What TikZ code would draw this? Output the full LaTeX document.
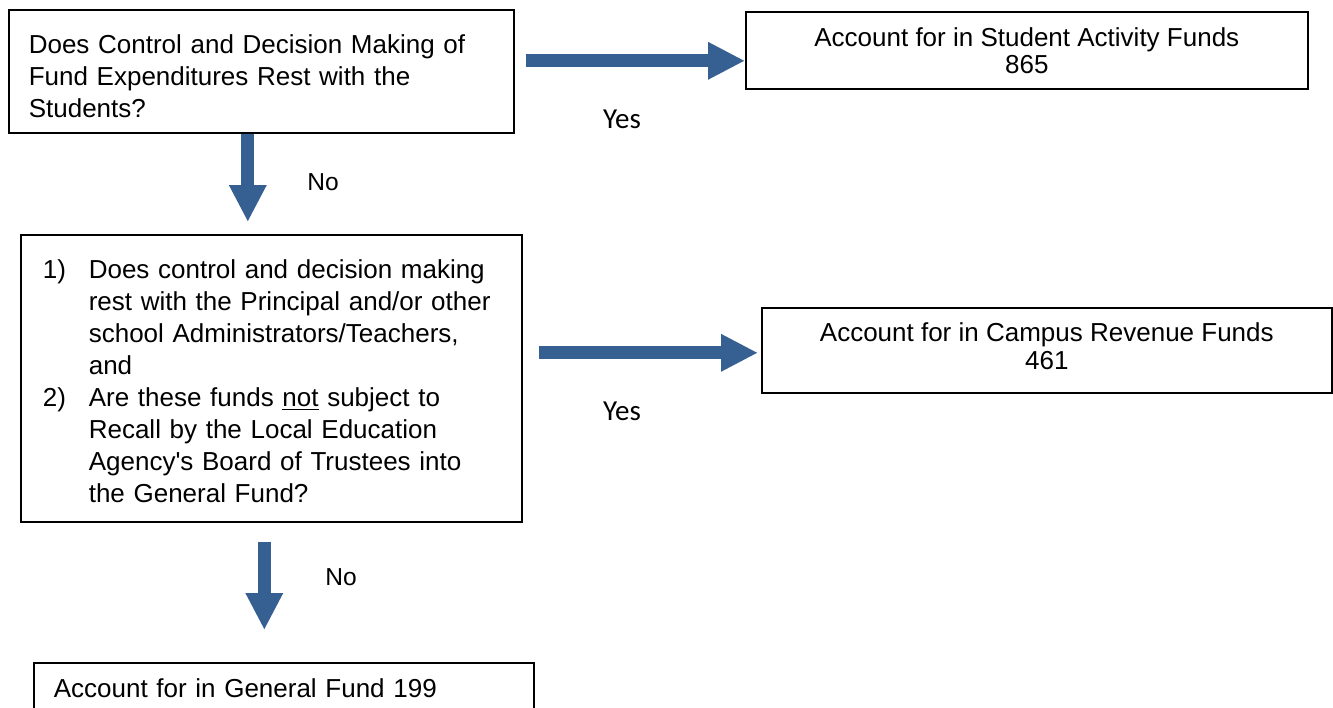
\documentclass[tikz,border=0pt]{standalone}
\usepackage{fontspec}
\setmainfont{Liberation Sans}[Ligatures=TeXOff]
\newfontfamily\yesfont{Carlito}
\usetikzlibrary{arrows.meta,calc}
\definecolor{flowblue}{RGB}{55,96,146}

\begin{document}
\begin{tikzpicture}[x=0.75pt, y=-0.75pt,
                    box/.style={draw, line width=1.2pt, rectangle, inner ysep=0pt},
                    flow/.style={draw=flowblue, line width=9.75pt,
                                 -{Triangle[length=27.75pt, width=26.25pt]}},
                    answer/.style={font=\fontsize{18.4}{22}\selectfont},
                    every node/.style={font=\fontsize{19.5}{24}\selectfont}]
      \useasboundingbox (0,0) rectangle (1333,707);
      \clip (0,0) rectangle (1333,707);
      % question boxes
      \node[box, anchor=north west, minimum width=378.75pt, minimum height=92.25pt,
            text width=348.75pt, inner xsep=15pt, align=left]
            (students_question) at (8,9)
            {\rule{0pt}{21.8pt}Does Control and Decision Making of\\Fund Expenditures Rest with the\\Students?};
      \node[box, anchor=north west, minimum width=375.75pt, minimum height=215.25pt,
            text width=342.75pt, inner xsep=16.5pt, align=left]
            (principal_question) at (20,234)
            {\begin{tabular}{@{}p{34.5pt}@{}l@{}}
              \rule{0pt}{25.8pt}1) & Does control and decision making\\
                 & rest with the Principal and/or other\\
                 & school Administrators/Teachers,\\
                 & and\\
              2) & Are these funds \underline{not} subject to\\
                 & Recall by the Local Education\\
                 & Agency's Board of Trustees into\\
                 & the General Fund?
             \end{tabular}};
      % fund boxes
      \node[box, anchor=north west, minimum width=421.5pt, minimum height=57.75pt,
            align=center, font=\fontsize{19.5}{20.25}\selectfont]
            (activity_funds) at (745,11)
            {Account for in Student Activity Funds\\865};
      \node[box, anchor=north west, minimum width=427.5pt, minimum height=63.75pt,
            align=center, font=\fontsize{19.5}{21}\selectfont]
            (campus_funds) at (761,307)
            {Account for in Campus Revenue Funds\\461\rule[-6pt]{0pt}{6pt}};
      \node[box, anchor=north west, minimum width=375pt, minimum height=37.5pt,
            text width=345pt, inner xsep=15pt, align=left]
            (general_fund) at (33,662)
            {Account for in General Fund 199};
      % answers
      \node[font=\yesfont\fontsize{21.75}{26}\selectfont] (yes_students) at (622,119) {Yes};
      \node[font=\yesfont\fontsize{21.75}{26}\selectfont] (yes_campus) at (622,411) {Yes};
      \node[answer] (no_students) at (323,182) {No};
      \node[answer] (no_campus) at (341,577) {No};
      % arrows
      \draw[flow] ($(students_question.east)+(11,-10.5)$) -- ($(activity_funds.west)+(0,10.5)$);
      \draw[flow] ($(students_question.south)+(-13.5,0)$) -- ($(principal_question.north)+(-23.5,-12)$);
      \draw[flow] ($(principal_question.east)+(16,-25.5)$) -- ($(campus_funds.west)+(-3,2.5)$);
      \draw[flow] ($(principal_question.south)+(-7,19)$) -- ($(general_fund.north)+(-19.5,-32)$);
    \end{tikzpicture}
\end{document}
